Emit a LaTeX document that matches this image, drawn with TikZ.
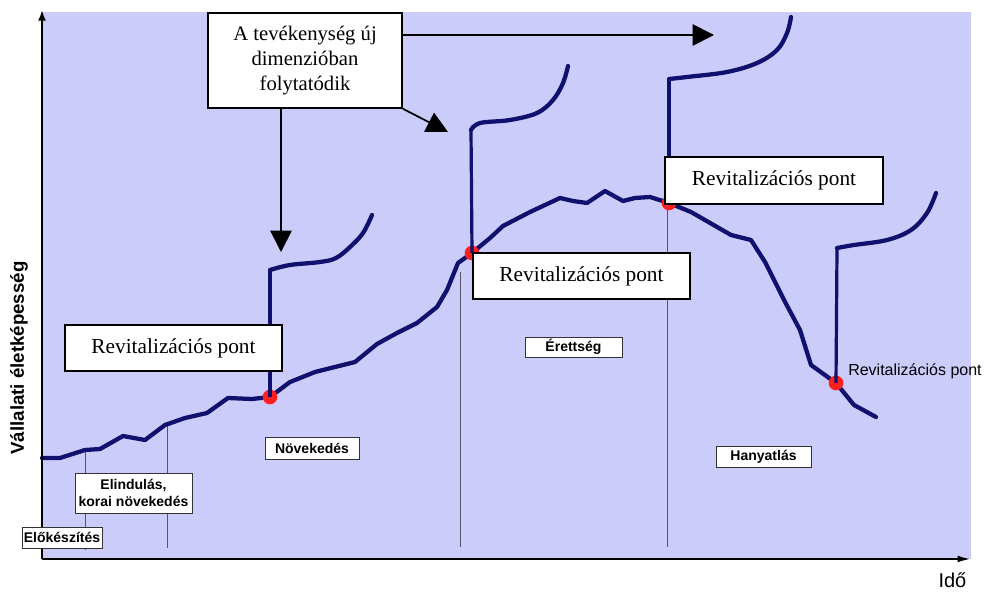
\documentclass[tikz,border=0pt]{standalone}
\usepackage{fontspec}
\setmainfont{Liberation Serif}
\setsansfont{Liberation Sans}
\usetikzlibrary{arrows.meta}
\definecolor{bgblue}{HTML}{CCCCFA}
\definecolor{curveblue}{HTML}{10106E}
\definecolor{dotred}{HTML}{FF1F1F}
\definecolor{divgray}{HTML}{555566}
\tikzset{
  revbox/.style={draw=black, fill=white, line width=1.5pt, font=\fontsize{16}{18}\selectfont, minimum width=163pt, minimum height=35pt, inner sep=0pt},
  topbox/.style={draw=black, fill=white, line width=1.5pt, font=\fontsize{15.5}{18.75}\selectfont, align=center, minimum width=145.5pt, minimum height=71pt, inner sep=0pt},
  phasebox/.style={draw=black!80, fill=white, line width=0.6pt, font=\sffamily\bfseries\fontsize{10.5}{13}\selectfont, align=center, inner sep=0pt},
  maincurve/.style={draw=curveblue, line width=3.2pt, line join=round, line cap=round},
  branchline/.style={draw=curveblue, line width=2.4pt, line join=round},
  divider/.style={draw=divgray, line width=0.6pt},
  reddot/.style={circle, fill=dotred, minimum size=11pt, inner sep=0pt},
  callout/.style={draw=black, line width=1.3pt, -{Triangle[width=16pt,length=16pt]}},
  axisline/.style={draw=black, line width=1.5pt}
}
\begin{document}
\begin{tikzpicture}[x=0.75pt,y=-0.75pt]
\useasboundingbox (0,0) rectangle (984,592);
\fill[white] (0,0) rectangle (984,592);
\fill[bgblue] (42,12) rectangle (971,559);

% dividers
\draw[divider] (85,450) -- (85,550);
\draw[divider] (167,425) -- (167,548);
\draw[divider] (460,272) -- (460,547);
\draw[divider] (667,203) -- (667,547);

% main curve
\draw[maincurve] (42,458) -- (60,458) -- (85,450) -- (100,449) -- (123,436) -- (145,440) -- (165,425) -- (185,418) -- (207,413) -- (228,398) -- (252,399) -- (270,397) -- (290,382) -- (315,372) -- (335,367) -- (355,362) -- (377,344) -- (397,333) -- (417,323) -- (437,307) -- (447,290) -- (458,263) -- (472,253) -- (490,238) -- (503,226) -- (530,212) -- (560,198) -- (573,201) -- (587,203) -- (605,191) -- (623,201) -- (635,198) -- (650,197) -- (669,203) -- (691,212) -- (731,235) -- (751,240) -- (765,262) -- (784,300) -- (800,330) -- (811,365) -- (836,383) -- (854,405) -- (876,417);

% red dots
\node[reddot] (r1) at (270,397) {};
\node[reddot] (r2) at (472,253) {};
\node[reddot] (r3) at (669,203) {};
\node[reddot] (r4) at (836,383) {};

% branches
\coordinate (b1) at (270,270);
\coordinate (b2) at (471,130);
\coordinate (b3) at (669,79);
\coordinate (b4) at (837,248);
\draw[branchline] (r1.center) -- (b1);
\draw[branchline] (r2.center) -- (b2);
\draw[branchline] (r3.center) -- (b3);
\draw[branchline] (r4.center) -- (b4);
\draw[maincurve] plot[smooth, tension=0.6] coordinates {(270,270) (290,265) (320,262) (336,258) (350,247) (363,233) (372,215)};
\draw[maincurve] plot[smooth, tension=0.6] coordinates {(471,130) (480,123) (510,120) (537,113) (553,100) (563,83) (568,66)};
\draw[maincurve] plot[smooth, tension=0.6] coordinates {(669,79) (687,77) (727,72) (757,63) (777,50) (787,33) (791,17)};
\draw[maincurve] plot[smooth, tension=0.6] coordinates {(837,248) (854,245) (887,240) (911,230) (927,213) (936,193)};

% axes
\coordinate (ytop) at (42,10);
\coordinate (xend) at (971,559);
\coordinate (orig) at (42,559);
\draw[axisline, -{Latex[length=8pt,width=6pt]}] (orig) -- (ytop);
\draw[axisline, -{Latex[length=10pt,width=5pt]}] (orig) -- (xend);
\node[font=\sffamily\fontsize{15}{17}\selectfont, anchor=base east] (ido) at (971,587) {Idő};
\node[font=\sffamily\bfseries\fontsize{14}{16}\selectfont, rotate=90] (yl) at (19,358) {Vállalati életképesség};

% phase labels
\node[phasebox, minimum width=60pt, minimum height=15.75pt] (p1) at (62,537.5) {Előkészítés};
\node[phasebox, minimum width=87.75pt, minimum height=30pt] (p2) at (133.5,493) {Elindulás,\\korai növekedés};
\node[phasebox, minimum width=70.5pt, minimum height=16.5pt] (p3) at (312,448) {Növekedés};
\node[phasebox, minimum width=72.75pt, minimum height=15pt] (p4) at (573.5,347) {Érettség};
\node[phasebox, minimum width=71.25pt, minimum height=15.75pt] (p5) at (763.5,456.5) {Hanyatlás};

% revitalization boxes
\node[revbox] (rv1) at (173.5,348) {Revitalizációs pont};
\node[revbox] (rv2) at (581.5,276) {Revitalizációs pont};
\node[revbox] (rv3) at (774,180.5) {Revitalizációs pont};
\node[font=\sffamily\fontsize{12}{14}\selectfont, anchor=west, inner sep=0pt] (rv4) at (848,371) {Revitalizációs pont};

% top callout
\node[topbox] (top) at (305,60.5) {A tevékenység új\\dimenzióban\\folytatódik};
\coordinate (t1) at (281,252);
\coordinate (t2) at (448,132);
\coordinate (t3) at (714,35);
\draw[callout] (top.south -| t1) -- (t1);
\draw[callout] (top.south east) -- (t2);
\draw[callout] (top.east |- t3) -- (t3);
\end{tikzpicture}
\end{document}
